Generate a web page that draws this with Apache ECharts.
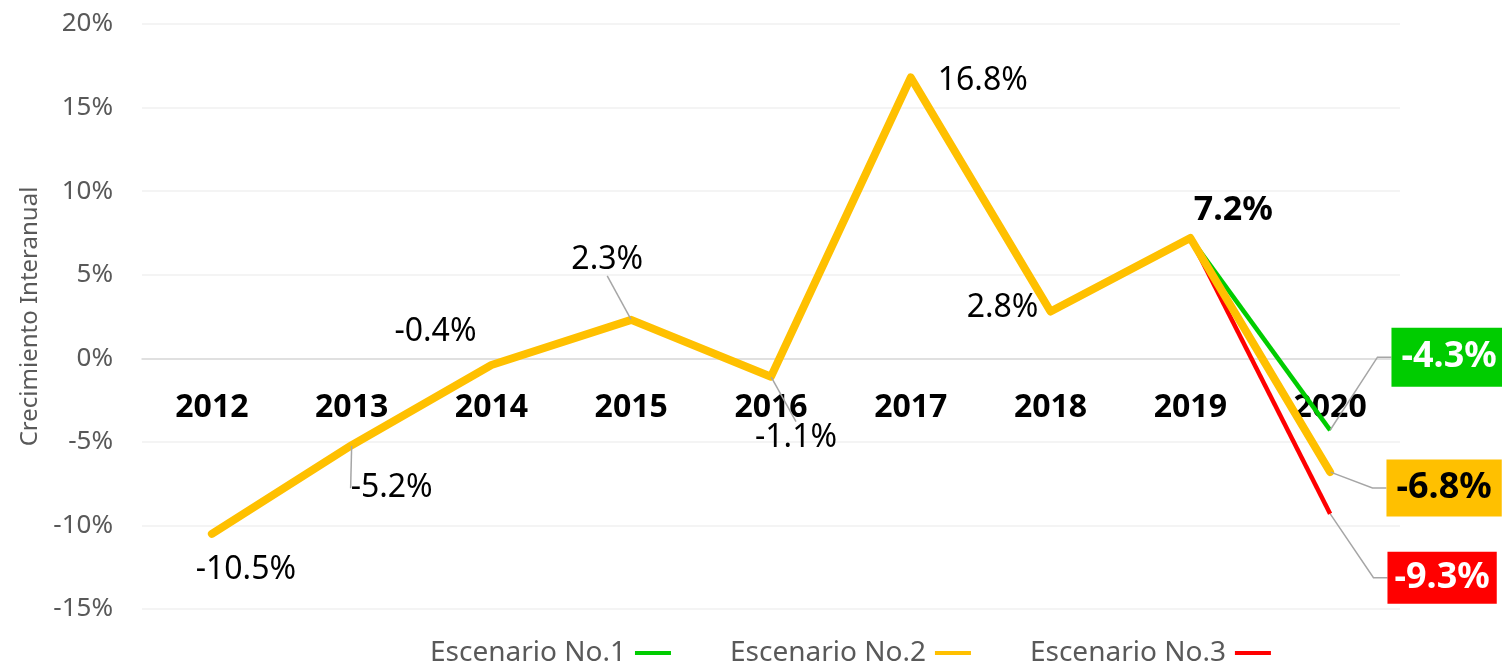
<!DOCTYPE html>
<html>
<head>
<meta charset="utf-8">
<script src="https://cdn.jsdelivr.net/npm/echarts@6/dist/echarts.min.js"></script>
<style>
html,body{margin:0;padding:0;background:#fff;}
#chart{width:1502px;height:664px;}
</style>
</head>
<body>
<div id="chart"></div>
<script>
// ---- data ----
var years = ['2012','2013','2014','2015','2016','2017','2018','2019','2020'];
var escenario2 = [-10.5, -5.2, -0.4, 2.3, -1.1, 16.8, 2.8, 7.2, -6.8];
var escenario1 = [null, null, null, null, null, null, null, 7.2, -4.3];
var escenario3 = [null, null, null, null, null, null, null, 7.2, -9.3];
var seriesNames = ['Escenario No.1', 'Escenario No.2', 'Escenario No.3'];
var yTicks = { min: -15, max: 20, interval: 5 };

// ---- label placement (offset of label centre from the point) ----
var FONT = '"Noto Sans", "Open Sans", sans-serif';
var yellowOffsets = [[34,36],[40,43],[-56,-33],[-24,-60],[25,61],[72,3],[-48,-4],[43,-28],[114,16]];
var yellowLeader  = [false,true,false,true,true,false,false,false,true];
var lastOffset = { s1: [119,-73], s3: [112,64] };

var COLORS = { s1: '#00CC00', s2: '#FFC000', s3: '#FF0000' };

var GRID = { left: 142, right: 102, top: 24, bottom: 55 };
var CHART_H = 664;
// x axis sits on the zero line (offset from the bottom of the grid, computed from the axis range)
var gridH = CHART_H - GRID.top - GRID.bottom;
var zeroOffset = -gridH * (0 - yTicks.min) / (yTicks.max - yTicks.min);

function fmt(v){ return v.toFixed(1) + '%'; }

function boxLabel(bg, fg, pad){
  return {
    show: true, position: 'inside',
    formatter: function(p){ return fmt(p.value); },
    backgroundColor: bg, color: fg,
    fontFamily: FONT, fontSize: 36, fontWeight: 'bold',
    padding: pad
  };
}
var leaderStyle = { color: '#A6A6A6', width: 1.5 };

var yellowData = escenario2.map(function(v, i){
  var item = { value: v };
  if (i === escenario2.length - 1) {
    item.label = boxLabel(COLORS.s2, '#000000', [12, 10, 9, 10]);
  } else {
    item.label = {
      show: true, position: 'inside',
      formatter: function(p){ return fmt(p.value); },
      color: '#000', fontFamily: FONT,
      fontSize: i === 7 ? 34 : 32,
      fontWeight: i === 7 ? 'bold' : 'normal'
    };
  }
  item.labelLine = { show: yellowLeader[i], length2: i === escenario2.length - 1 ? 14 : 0, lineStyle: leaderStyle };
  return item;
});

function scenarioData(arr, color, fg, pad){
  return arr.map(function(v, i){
    if (v === null) return null;
    var item = { value: v };
    if (i === arr.length - 1) {
      item.label = boxLabel(color, fg, pad);
      item.labelLine = { show: true, length2: 14, lineStyle: leaderStyle };
    } else {
      item.label = { show: false };
    }
    return item;
  });
}

var chart = echarts.init(document.getElementById('chart'));
chart.setOption({
  animation: false,
  backgroundColor: '#ffffff',
  grid: { left: GRID.left, right: GRID.right, top: GRID.top, bottom: GRID.bottom, containLabel: false, outerBoundsMode: 'none' },
  legend: {
    data: seriesNames.map(function(n, k){
      return { name: n, icon: 'rect', itemStyle: { color: [COLORS.s1, COLORS.s2, COLORS.s3][k] } };
    }),
    left: 425, top: 634,
    align: 'right',
    itemWidth: 36, itemHeight: 4, itemGap: 59,
    textStyle: { color: '#595959', fontSize: 28, fontFamily: FONT, padding: [0, 4, 0, 0] }
  },
  xAxis: {
    type: 'category',
    data: years,
    boundaryGap: true,
    offset: zeroOffset,
    axisLine: { onZero: false, lineStyle: { color: '#D9D9D9', width: 1.5 } },
    axisTick: { show: false },
    axisLabel: { color: '#000', fontFamily: FONT, fontSize: 32, fontWeight: 'bold', margin: 34 },
    splitLine: { show: false }
  },
  yAxis: {
    type: 'value',
    min: yTicks.min, max: yTicks.max, interval: yTicks.interval,
    name: 'Crecimiento Interanual',
    nameLocation: 'middle',
    nameGap: 100,
    nameTextStyle: { color: '#595959', fontFamily: FONT, fontSize: 24 },
    axisLine: { show: false },
    axisTick: { show: false },
    axisLabel: { formatter: '{value}%', color: '#595959', fontFamily: FONT, fontSize: 26, margin: 29 },
    splitLine: { lineStyle: { color: '#F0F0F0', width: 1.5 } }
  },
  series: [
    {
      name: seriesNames[0], type: 'line',
      data: scenarioData(escenario1, COLORS.s1, '#FFFFFF', [13, 10, 10, 10]),
      symbol: 'circle', symbolSize: 1,
      itemStyle: { color: COLORS.s1 },
      lineStyle: { color: COLORS.s1, width: 4.5 },
      labelLayout: function(p){ return { dx: lastOffset.s1[0], dy: lastOffset.s1[1] }; },
      z: 2
    },
    {
      name: seriesNames[2], type: 'line',
      data: scenarioData(escenario3, COLORS.s3, '#FFFFFF', [9, 7, 7, 7]),
      symbol: 'circle', symbolSize: 1,
      itemStyle: { color: COLORS.s3 },
      lineStyle: { color: COLORS.s3, width: 4.5 },
      labelLayout: function(p){ return { dx: lastOffset.s3[0], dy: lastOffset.s3[1] }; },
      z: 3
    },
    {
      name: seriesNames[1], type: 'line',
      data: yellowData,
      symbol: 'circle', symbolSize: 1,
      itemStyle: { color: COLORS.s2 },
      lineStyle: { color: COLORS.s2, width: 8, cap: 'round', join: 'round' },
      labelLayout: function(p){ var o = yellowOffsets[p.dataIndex]; return { dx: o[0], dy: o[1] }; },
      z: 4
    }
  ]
});
</script>
</body>
</html>
